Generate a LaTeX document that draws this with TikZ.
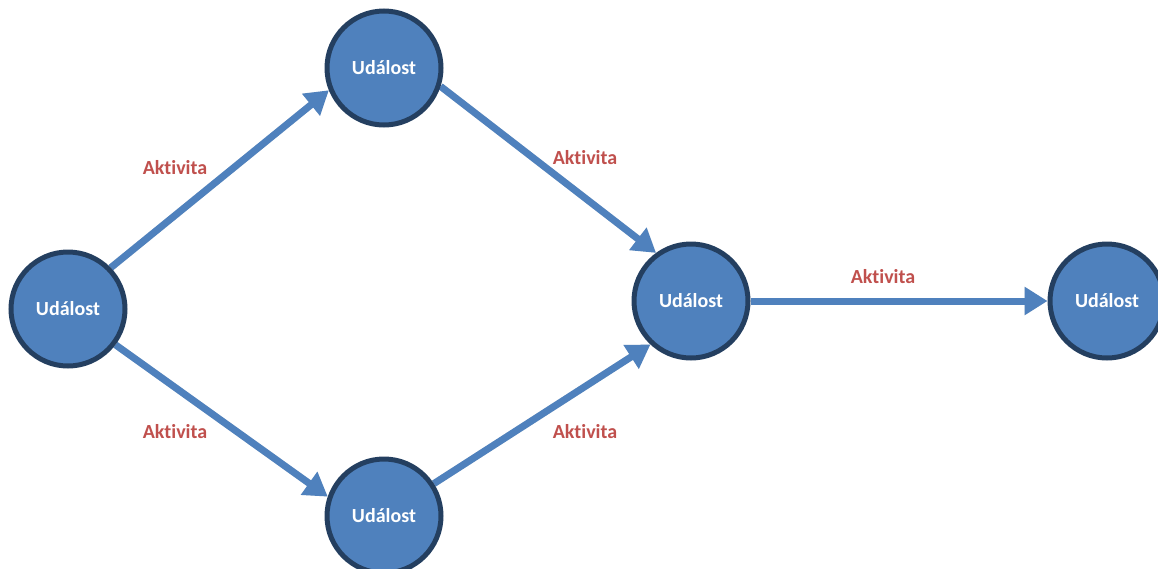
\documentclass[tikz,border=0pt]{standalone}
\usepackage{fontspec}
\setmainfont[Ligatures=NoCommon]{Carlito}
\usetikzlibrary{arrows.meta}
\definecolor{evfill}{HTML}{4F81BD}
\definecolor{evborder}{HTML}{243F60}
\definecolor{actred}{HTML}{C0504D}
\definecolor{shade}{HTML}{EAEAEA}
\pgfdeclarelayer{background}
\pgfsetlayers{background,main}
\tikzset{
  event/.style={circle, draw=evborder, line width=5pt, fill=evfill,
    minimum size=114pt, inner sep=0pt, text=white,
    font=\fontsize{20}{24}\selectfont\bfseries},
  activity/.style={line width=7pt, draw=evfill,
    -{Triangle[length=23pt,width=27pt]}},
  actshadow/.style={line width=7pt, draw=shade,
    -{Triangle[length=23pt,width=27pt]}},
  actlabel/.style={text=actred, font=\fontsize{20}{24}\selectfont\bfseries}
}
\begin{document}
\begin{tikzpicture}[x=1pt,y=-1pt]
  \useasboundingbox (0,0) rectangle (1158,568);
  \clip (0,0) rectangle (1158,568);

  % events
  \node[event] (L) at (68,309) {Událost};
  \node[event] (T) at (384,68) {Událost};
  \node[event] (B) at (384,516) {Událost};
  \node[event] (M) at (691,301) {Událost};
  \node[event] (R) at (1107,301) {Událost};

  \begin{pgfonlayer}{background}
    % soft shadows under the activity arrows
    \begin{scope}[shift={(3,7)}]
      \draw[actshadow] (L.44) -- (T.202);
      \draw[actshadow] (T.-18) -- (M.126);
      \draw[actshadow] (L.-37) -- (B.161);
      \draw[actshadow] (B.33) -- (M.227);
      \draw[actshadow] (M.0) -- (R.180);
    \end{scope}
    % activities
    \draw[activity] (L.44) -- (T.202);
    \draw[activity] (T.-18) -- (M.126);
    \draw[activity] (L.-37) -- (B.161);
    \draw[activity] (B.33) -- (M.227);
    \draw[activity] (M.0) -- (R.180);
  \end{pgfonlayer}

  % activity labels
  \node[actlabel] (a1) at (175,168) {Aktivita};
  \node[actlabel] (a2) at (585,158) {Aktivita};
  \node[actlabel] (a3) at (175,432) {Aktivita};
  \node[actlabel] (a4) at (585,432) {Aktivita};
  \node[actlabel] (a5) at (883,277) {Aktivita};
\end{tikzpicture}
\end{document}
